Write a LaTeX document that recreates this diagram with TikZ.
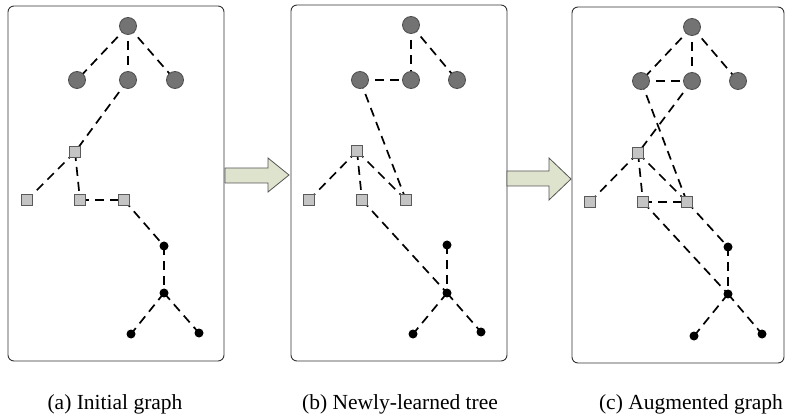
\documentclass[tikz,border=0pt]{standalone}
\usepackage{fontspec}
\setmainfont{Liberation Serif}
\usetikzlibrary{backgrounds}
\definecolor{cgrey}{HTML}{737373}
\definecolor{cgreyb}{HTML}{4D4D4D}
\definecolor{sgrey}{HTML}{C4C4C4}
\definecolor{sgreyb}{HTML}{5A5A5A}
\definecolor{arrfill}{HTML}{DEE3CE}
\definecolor{arrdraw}{HTML}{555555}
\definecolor{boxdraw}{HTML}{333333}
\tikzset{
  circnode/.style={circle,fill=cgrey,draw=cgreyb,line width=0.8pt,minimum size=17pt,inner sep=0pt},
  sqnode/.style={rectangle,fill=sgrey,draw=sgreyb,line width=0.9pt,minimum size=11pt,inner sep=0pt},
  blackdot/.style={circle,fill=black,minimum size=9pt,inner sep=0pt},
  dashedge/.style={line width=1.7pt,dash pattern=on 9pt off 6pt},
  panelbox/.style={draw=boxdraw,line width=0.9pt,rounded corners=6pt},
  blockarrow/.style={fill=arrfill,draw=arrdraw,line width=0.8pt},
  captext/.style={font=\fontsize{21.5}{24}\selectfont,anchor=base}
}
\begin{document}
\begin{tikzpicture}[x=1pt,y=-1pt]
\useasboundingbox (0,0) rectangle (785,414);
\clip (0,0) rectangle (785,414);
% panels
\draw[panelbox] (8,6) rectangle (224,361);
\draw[panelbox] (291,5) rectangle (507,361);
\draw[panelbox] (572,7) rectangle (784,363);
% block arrows
\draw[blockarrow] (225,168) -- (268,168) -- (268,158) -- (289,175) -- (268,192) -- (268,183) -- (225,183) -- cycle;
\draw[blockarrow] (507,171) -- (549,171) -- (549,158) -- (571,179) -- (549,200) -- (549,186) -- (507,186) -- cycle;

% ---- panel (a)
\node[circnode] (ar) at (128,26) {};
\node[circnode] (al) at (77,80) {};
\node[circnode] (am) at (128,80) {};
\node[circnode] (aR) at (175,80) {};
\node[sqnode] (aA) at (75,152) {};
\node[sqnode] (a1) at (27,200) {};
\node[sqnode] (a2) at (80,200) {};
\node[sqnode] (a3) at (124,200) {};
\node[blackdot] (ad1) at (164,246) {};
\node[blackdot] (ad2) at (164,293) {};
\node[blackdot] (ad3) at (131,334) {};
\node[blackdot] (ad4) at (199,333) {};
\begin{pgfonlayer}{background}
\draw[dashedge] (ar.center) -- (al.center);
\draw[dashedge] (ar.center) -- (am.center);
\draw[dashedge] (ar.center) -- (aR.center);
\draw[dashedge] (am.center) -- (aA.center);
\draw[dashedge] (aA.center) -- (a1.center);
\draw[dashedge] (aA.center) -- (a2.center);
\draw[dashedge] (a2.center) -- (a3.center);
\draw[dashedge] (a3.center) -- (ad1.center);
\draw[dashedge] (ad1.center) -- (ad2.center);
\draw[dashedge] (ad2.center) -- (ad3.center);
\draw[dashedge] (ad2.center) -- (ad4.center);
\end{pgfonlayer}

% ---- panel (b)
\node[circnode] (br) at (411,25) {};
\node[circnode] (bl) at (360,80) {};
\node[circnode] (bm) at (411,80) {};
\node[circnode] (bR) at (457,80) {};
\node[sqnode] (bA) at (357,151) {};
\node[sqnode] (b1) at (309,200) {};
\node[sqnode] (b2) at (362,200) {};
\node[sqnode] (b3) at (406,200) {};
\node[blackdot] (bd1) at (447,245) {};
\node[blackdot] (bd2) at (447,293) {};
\node[blackdot] (bd3) at (413,334) {};
\node[blackdot] (bd4) at (481,332) {};
\begin{pgfonlayer}{background}
\draw[dashedge] (br.center) -- (bm.center);
\draw[dashedge] (br.center) -- (bR.center);
\draw[dashedge] (bl.center) -- (bm.center);
\draw[dashedge] (bl.center) -- (b3.center);
\draw[dashedge] (bA.center) -- (b1.center);
\draw[dashedge] (bA.center) -- (b2.center);
\draw[dashedge] (bA.center) -- (b3.center);
\draw[dashedge] (b2.center) -- (bd2.center);
\draw[dashedge] (bd1.center) -- (bd2.center);
\draw[dashedge] (bd2.center) -- (bd3.center);
\draw[dashedge] (bd2.center) -- (bd4.center);
\end{pgfonlayer}

% ---- panel (c)
\node[circnode] (cr) at (692,27) {};
\node[circnode] (cl) at (641,81) {};
\node[circnode] (cm) at (692,81) {};
\node[circnode] (cR) at (738,81) {};
\node[sqnode] (cA) at (638,153) {};
\node[sqnode] (c1) at (590,202) {};
\node[sqnode] (c2) at (643,202) {};
\node[sqnode] (c3) at (687,202) {};
\node[blackdot] (cd1) at (728,247) {};
\node[blackdot] (cd2) at (728,294) {};
\node[blackdot] (cd3) at (694,336) {};
\node[blackdot] (cd4) at (762,334) {};
\begin{pgfonlayer}{background}
\draw[dashedge] (cr.center) -- (cl.center);
\draw[dashedge] (cr.center) -- (cm.center);
\draw[dashedge] (cr.center) -- (cR.center);
\draw[dashedge] (cl.center) -- (cm.center);
\draw[dashedge] (cm.center) -- (cA.center);
\draw[dashedge] (cl.center) -- (c3.center);
\draw[dashedge] (cA.center) -- (c1.center);
\draw[dashedge] (cA.center) -- (c2.center);
\draw[dashedge] (cA.center) -- (c3.center);
\draw[dashedge] (c2.center) -- (c3.center);
\draw[dashedge] (c3.center) -- (cd1.center);
\draw[dashedge] (c2.center) -- (cd2.center);
\draw[dashedge] (cd1.center) -- (cd2.center);
\draw[dashedge] (cd2.center) -- (cd3.center);
\draw[dashedge] (cd2.center) -- (cd4.center);
\end{pgfonlayer}

% captions
\node[captext] (capa) at (115,409) {(a) Initial graph};
\node[captext] (capb) at (400,409) {(b) Newly-learned tree};
\node[captext] (capc) at (691,409) {(c) Augmented graph};
\end{tikzpicture}
\end{document}
